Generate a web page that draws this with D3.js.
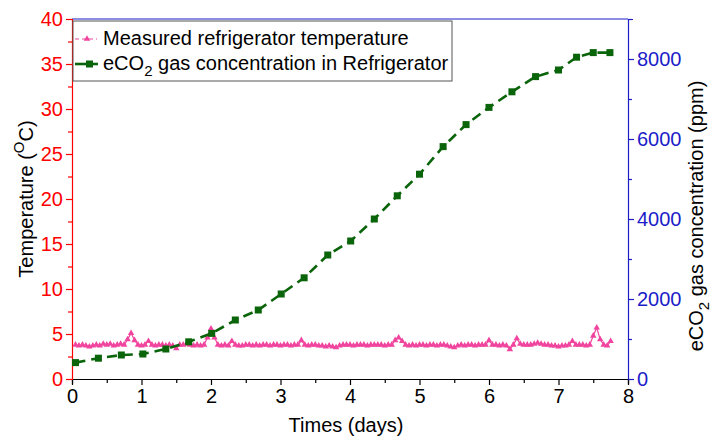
<!DOCTYPE html>
<html>
<head>
<meta charset="utf-8">
<script src="https://cdn.jsdelivr.net/npm/d3@7"></script>
<style>
  html, body { margin: 0; padding: 0; background: #fff; }
  svg { display: block; font-family: "Liberation Sans", Arial, sans-serif; }
</style>
</head>
<body>
<svg id="chart" width="718" height="446"></svg>
<script>
// ---------- DATA ----------
const xTicks = [0, 1, 2, 3, 4, 5, 6, 7, 8];
const tempTicks = [0, 5, 10, 15, 20, 25, 30, 35, 40];
const co2Ticks = [0, 2000, 4000, 6000, 8000];

// eCO2 concentration (ppm) vs time (days)
const co2Times = [0.05, 0.38, 0.71, 1.02, 1.35, 1.68, 2.01, 2.35, 2.68, 3.01, 3.34, 3.68, 4.01,
                  4.35, 4.68, 5.0, 5.34, 5.67, 6.0, 6.33, 6.67, 7.0, 7.26, 7.5, 7.74];
const co2Values = [410, 520, 600, 625, 750, 930, 1140, 1475, 1725, 2125, 2530, 3100, 3450,
                   4000, 4580, 5120, 5810, 6360, 6790, 7180, 7560, 7725, 8045, 8160, 8160];

// Measured refrigerator temperature (°C), sampled every 0.05 day starting at 0.05 day
const tempStart = 0.05;
const tempStep = 0.05;
const tempValues = [
  3.8,3.7,3.8,3.7,3.6,3.7,3.8,3.7,3.9,3.8,3.9,3.7,3.8,3.9,3.8,
  4.4,5.1,4.3,3.8,3.7,3.8,4.2,3.8,3.7,3.8,3.8,3.7,3.8,3.7,3.4,
  3.8,3.8,3.9,3.8,3.7,3.8,3.7,3.8,4.6,5.6,4.6,3.8,3.7,3.8,3.7,
  4.2,3.8,3.7,3.7,3.8,3.8,3.7,3.8,3.7,3.8,3.8,3.7,3.8,3.8,3.7,
  3.8,3.8,3.7,3.8,3.8,4.3,3.8,3.7,3.8,3.8,3.7,3.7,3.6,3.7,3.6,
  3.5,3.7,3.8,3.8,3.8,3.7,3.8,3.8,3.8,3.7,3.8,3.8,3.8,3.8,3.7,
  3.8,3.8,4.3,4.6,4.2,3.8,3.7,3.8,3.7,3.8,3.8,3.7,3.8,3.8,3.7,
  3.8,3.8,3.7,3.6,3.5,3.7,3.8,3.7,3.8,3.8,3.7,3.8,3.8,3.8,4.3,
  3.8,3.8,3.7,3.8,3.7,3.3,3.8,4.5,3.9,3.8,3.8,3.8,3.9,4.0,3.9,
  3.8,3.8,3.7,3.7,3.6,3.7,3.7,3.8,4.2,3.8,3.8,3.8,3.7,3.8,4.8,
  5.7,4.4,3.8,3.7,4.2
];

const legendLabels = ["Measured refrigerator temperature", "eCO2 gas concentration in Refrigerator"];

// ---------- LAYOUT ----------
const svg = d3.select("#chart");
const L = 72, R = 628, T = 19, B = 379;
const red = "#ff0000", blue = "#1c1cc8", pink = "#f0449e", green = "#0a640a";

const x = d3.scaleLinear().domain([0, 8]).range([L, R]);
const yT = d3.scaleLinear().domain([0, 40]).range([B, T]);
const yC = d3.scaleLinear().domain([0, 9000]).range([B, T]);

const fontSize = 20;
const ff = "Liberation Sans, Arial, sans-serif";

// top border (blue)
svg.append("line").attr("x1", L).attr("x2", R).attr("y1", T).attr("y2", T)
  .attr("stroke", blue).attr("stroke-width", 1.2);

// ----- X axis -----
const gx = svg.append("g").attr("transform", `translate(0,${B})`)
  .call(d3.axisBottom(x).tickValues(d3.range(0, 8.01, 0.5)).tickSize(5)
    .tickFormat(d => xTicks.includes(d) ? d3.format("d")(d) : ""));
gx.select(".domain").attr("stroke", "#000").attr("stroke-width", 1.2);
gx.selectAll(".tick line").attr("stroke", "#000").attr("stroke-width", 1.2)
  .attr("y2", d => Number.isInteger(d) ? 6 : 4);
gx.selectAll(".tick text").attr("font-size", fontSize).attr("fill", "#000")
  .attr("font-family", ff).attr("dy", "0.75em").attr("y", 9);

// ----- Left axis (temperature) -----
const gl = svg.append("g").attr("transform", `translate(${L},0)`)
  .call(d3.axisLeft(yT).tickValues(d3.range(0, 40.01, 2.5)).tickSize(5)
    .tickFormat(d => tempTicks.includes(d) ? d3.format("d")(d) : ""));
gl.select(".domain").attr("stroke", red).attr("stroke-width", 1.2);
gl.selectAll(".tick line").attr("stroke", red).attr("stroke-width", 1.2)
  .attr("x2", d => d % 5 === 0 ? -6 : -4);
gl.selectAll(".tick text").attr("font-size", fontSize).attr("fill", red)
  .attr("font-family", ff).attr("x", -9);

// ----- Right axis (CO2) -----
const gr = svg.append("g").attr("transform", `translate(${R},0)`)
  .call(d3.axisRight(yC).tickValues(d3.range(0, 9001, 1000)).tickSize(5)
    .tickFormat(d => co2Ticks.includes(d) ? d3.format("d")(d) : ""));
gr.select(".domain").attr("stroke", blue).attr("stroke-width", 1.2);
gr.selectAll(".tick line").attr("stroke", blue).attr("stroke-width", 1.2)
  .attr("x2", d => d % 2000 === 0 ? 6 : 4);
gr.selectAll(".tick text").attr("font-size", fontSize).attr("fill", blue)
  .attr("font-family", ff).attr("x", 9);

// ----- Axis titles -----
svg.append("text").attr("x", 346).attr("y", 432).attr("text-anchor", "middle")
  .attr("font-size", fontSize).attr("fill", "#000").text("Times (days)");

const tl = svg.append("text").attr("transform", `translate(33,${(T + B) / 2}) rotate(-90)`)
  .attr("text-anchor", "middle").attr("font-size", fontSize).attr("fill", "#000");
tl.append("tspan").text("Temperature (");
tl.append("tspan").attr("font-size", 15).attr("dy", -9).text("O");
tl.append("tspan").attr("dy", 9).text("C)");

const tr = svg.append("text").attr("transform", `translate(703,216) rotate(-90)`)
  .attr("text-anchor", "middle").attr("font-size", fontSize).attr("fill", "#000");
tr.append("tspan").text("eCO");
tr.append("tspan").attr("font-size", 15).attr("dy", 6).text("2");
tr.append("tspan").attr("dy", -6).text(" gas concentration (ppm)");

// ----- Temperature series -----
const tempData = tempValues.map((v, i) => ({ t: tempStart + i * tempStep, v }));
const tri = d3.symbol().type(d3.symbolTriangle).size(18);
svg.append("path").datum(tempData)
  .attr("d", d3.line().x(d => x(d.t)).y(d => yT(d.v)))
  .attr("fill", "none").attr("stroke", pink).attr("stroke-width", 1.2);
svg.append("g").selectAll("path").data(tempData).join("path")
  .attr("transform", d => `translate(${x(d.t)},${yT(d.v)})`)
  .attr("d", tri).attr("fill", pink);

// ----- CO2 series -----
const co2Data = co2Times.map((t, i) => ({ t, v: co2Values[i] }));
svg.append("path").datum(co2Data)
  .attr("d", d3.line().x(d => x(d.t)).y(d => yC(d.v)))
  .attr("fill", "none").attr("stroke", green).attr("stroke-width", 2.6)
  .attr("stroke-dasharray", "10,6");
svg.append("g").selectAll("rect").data(co2Data).join("rect")
  .attr("x", d => x(d.t) - 3.5).attr("y", d => yC(d.v) - 3.5)
  .attr("width", 7).attr("height", 7).attr("fill", green);

// ----- Legend -----
const lg = svg.append("g");
lg.append("rect").attr("x", 73).attr("y", 21).attr("width", 379).attr("height", 60)
  .attr("fill", "#fff").attr("stroke", "#555").attr("stroke-width", 1);
// entry 1
lg.append("line").attr("x1", 75).attr("x2", 97).attr("y1", 39).attr("y2", 39)
  .attr("stroke", pink).attr("stroke-width", 1.2).attr("stroke-dasharray", "4,3");
lg.append("path").attr("transform", "translate(87,39)").attr("d", tri).attr("fill", pink);
lg.append("text").attr("x", 103).attr("y", 45).attr("font-size", fontSize).attr("fill", "#000")
  .text(legendLabels[0]);
// entry 2
lg.append("line").attr("x1", 75).attr("x2", 98).attr("y1", 64).attr("y2", 64)
  .attr("stroke", green).attr("stroke-width", 2.6);
lg.append("rect").attr("x", 86).attr("y", 60.5).attr("width", 7).attr("height", 7).attr("fill", green);
const t2 = lg.append("text").attr("x", 103).attr("y", 70).attr("font-size", fontSize).attr("fill", "#000");
t2.append("tspan").text("eCO");
t2.append("tspan").attr("font-size", 15).attr("dy", 6).text("2");
t2.append("tspan").attr("dy", -6).text(" gas concentration in Refrigerator");
</script>
</body>
</html>
